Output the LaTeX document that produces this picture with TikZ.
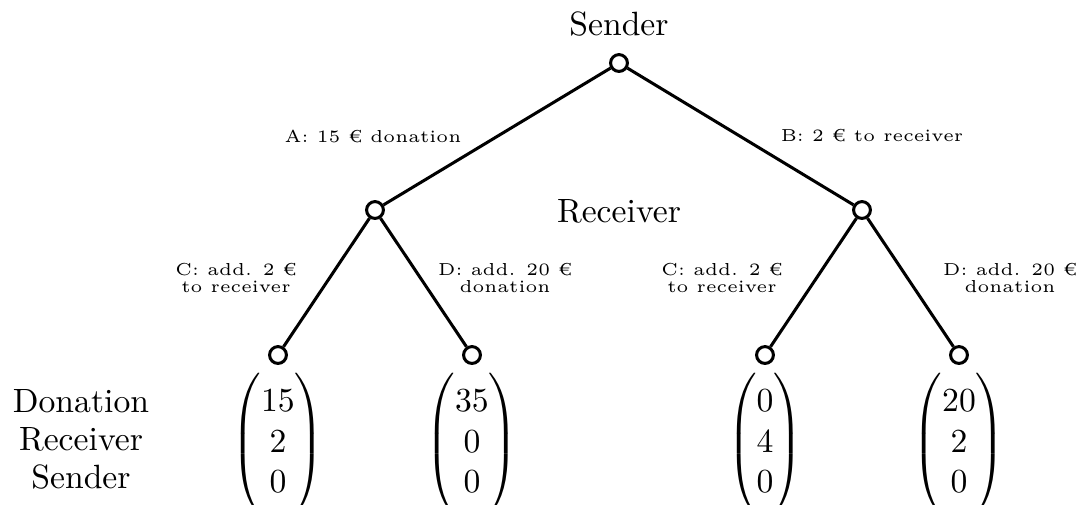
\documentclass[tikz,border=0pt]{standalone}
\usepackage{amsmath}
\newcommand{\payvec}[3]{$\left(\begin{matrix}#1\\#2\\#3\end{matrix}\vcenter{\hbox{\rule{0pt}{41pt}}}\right)$}
\begin{document}
\begin{tikzpicture}[x=0.297pt,y=-0.297pt,
  dot/.style={circle,draw,line width=0.9pt,fill=white,inner sep=0pt,minimum size=5pt},
  edge/.style={line width=0.9pt},
  lab/.style={font=\fontsize{5.15}{5}\selectfont,align=center,inner sep=0pt},
  txt/.style={inner sep=0pt,anchor=base},
  vec/.style={inner sep=0pt}]
\useasboundingbox (0,0) rectangle (1078,504);
% players
\node[txt] (tsender) at (619,35) {Sender};
\node[txt] (trecv) at (619,222) {Receiver};
% nodes
\node[dot] (s) at (619,63) {};
\node[dot] (l) at (375,210) {};
\node[dot] (r) at (862,210) {};
\node[dot] (ll) at (278,355) {};
\node[dot] (lr) at (472,355) {};
\node[dot] (rl) at (765,355) {};
\node[dot] (rr) at (959,355) {};
% edges
\draw[edge] (s) -- (l);
\draw[edge] (s) -- (r);
\draw[edge] (l) -- (ll);
\draw[edge] (l) -- (lr);
\draw[edge] (r) -- (rl);
\draw[edge] (r) -- (rr);
% edge labels
\node[lab] (la) at (373,136) {A: 15 € donation};
\node[lab] (lb) at (872,136) {B: 2 € to receiver};
\node[lab] (lc1) at (236,278) {C: add. 2 €\\to receiver};
\node[lab] (ld1) at (505,278) {D: add. 20 €\\donation};
\node[lab] (lc2) at (722,278) {C: add. 2 €\\to receiver};
\node[lab] (ld2) at (1010,278) {D: add. 20 €\\donation};
% payoff labels
\node[txt] (pd) at (81,412) {Donation};
\node[txt] (pr) at (81,450) {Receiver};
\node[txt] (ps) at (81,488) {Sender};
% payoffs
\node[vec] (v1) at (278,444) {\payvec{15}{2}{0}};
\node[vec] (v2) at (472,444) {\payvec{35}{0}{0}};
\node[vec] (v3) at (765,444) {\payvec{0}{4}{0}};
\node[vec] (v4) at (959,444) {\payvec{20}{2}{0}};
\end{tikzpicture}
\end{document}
